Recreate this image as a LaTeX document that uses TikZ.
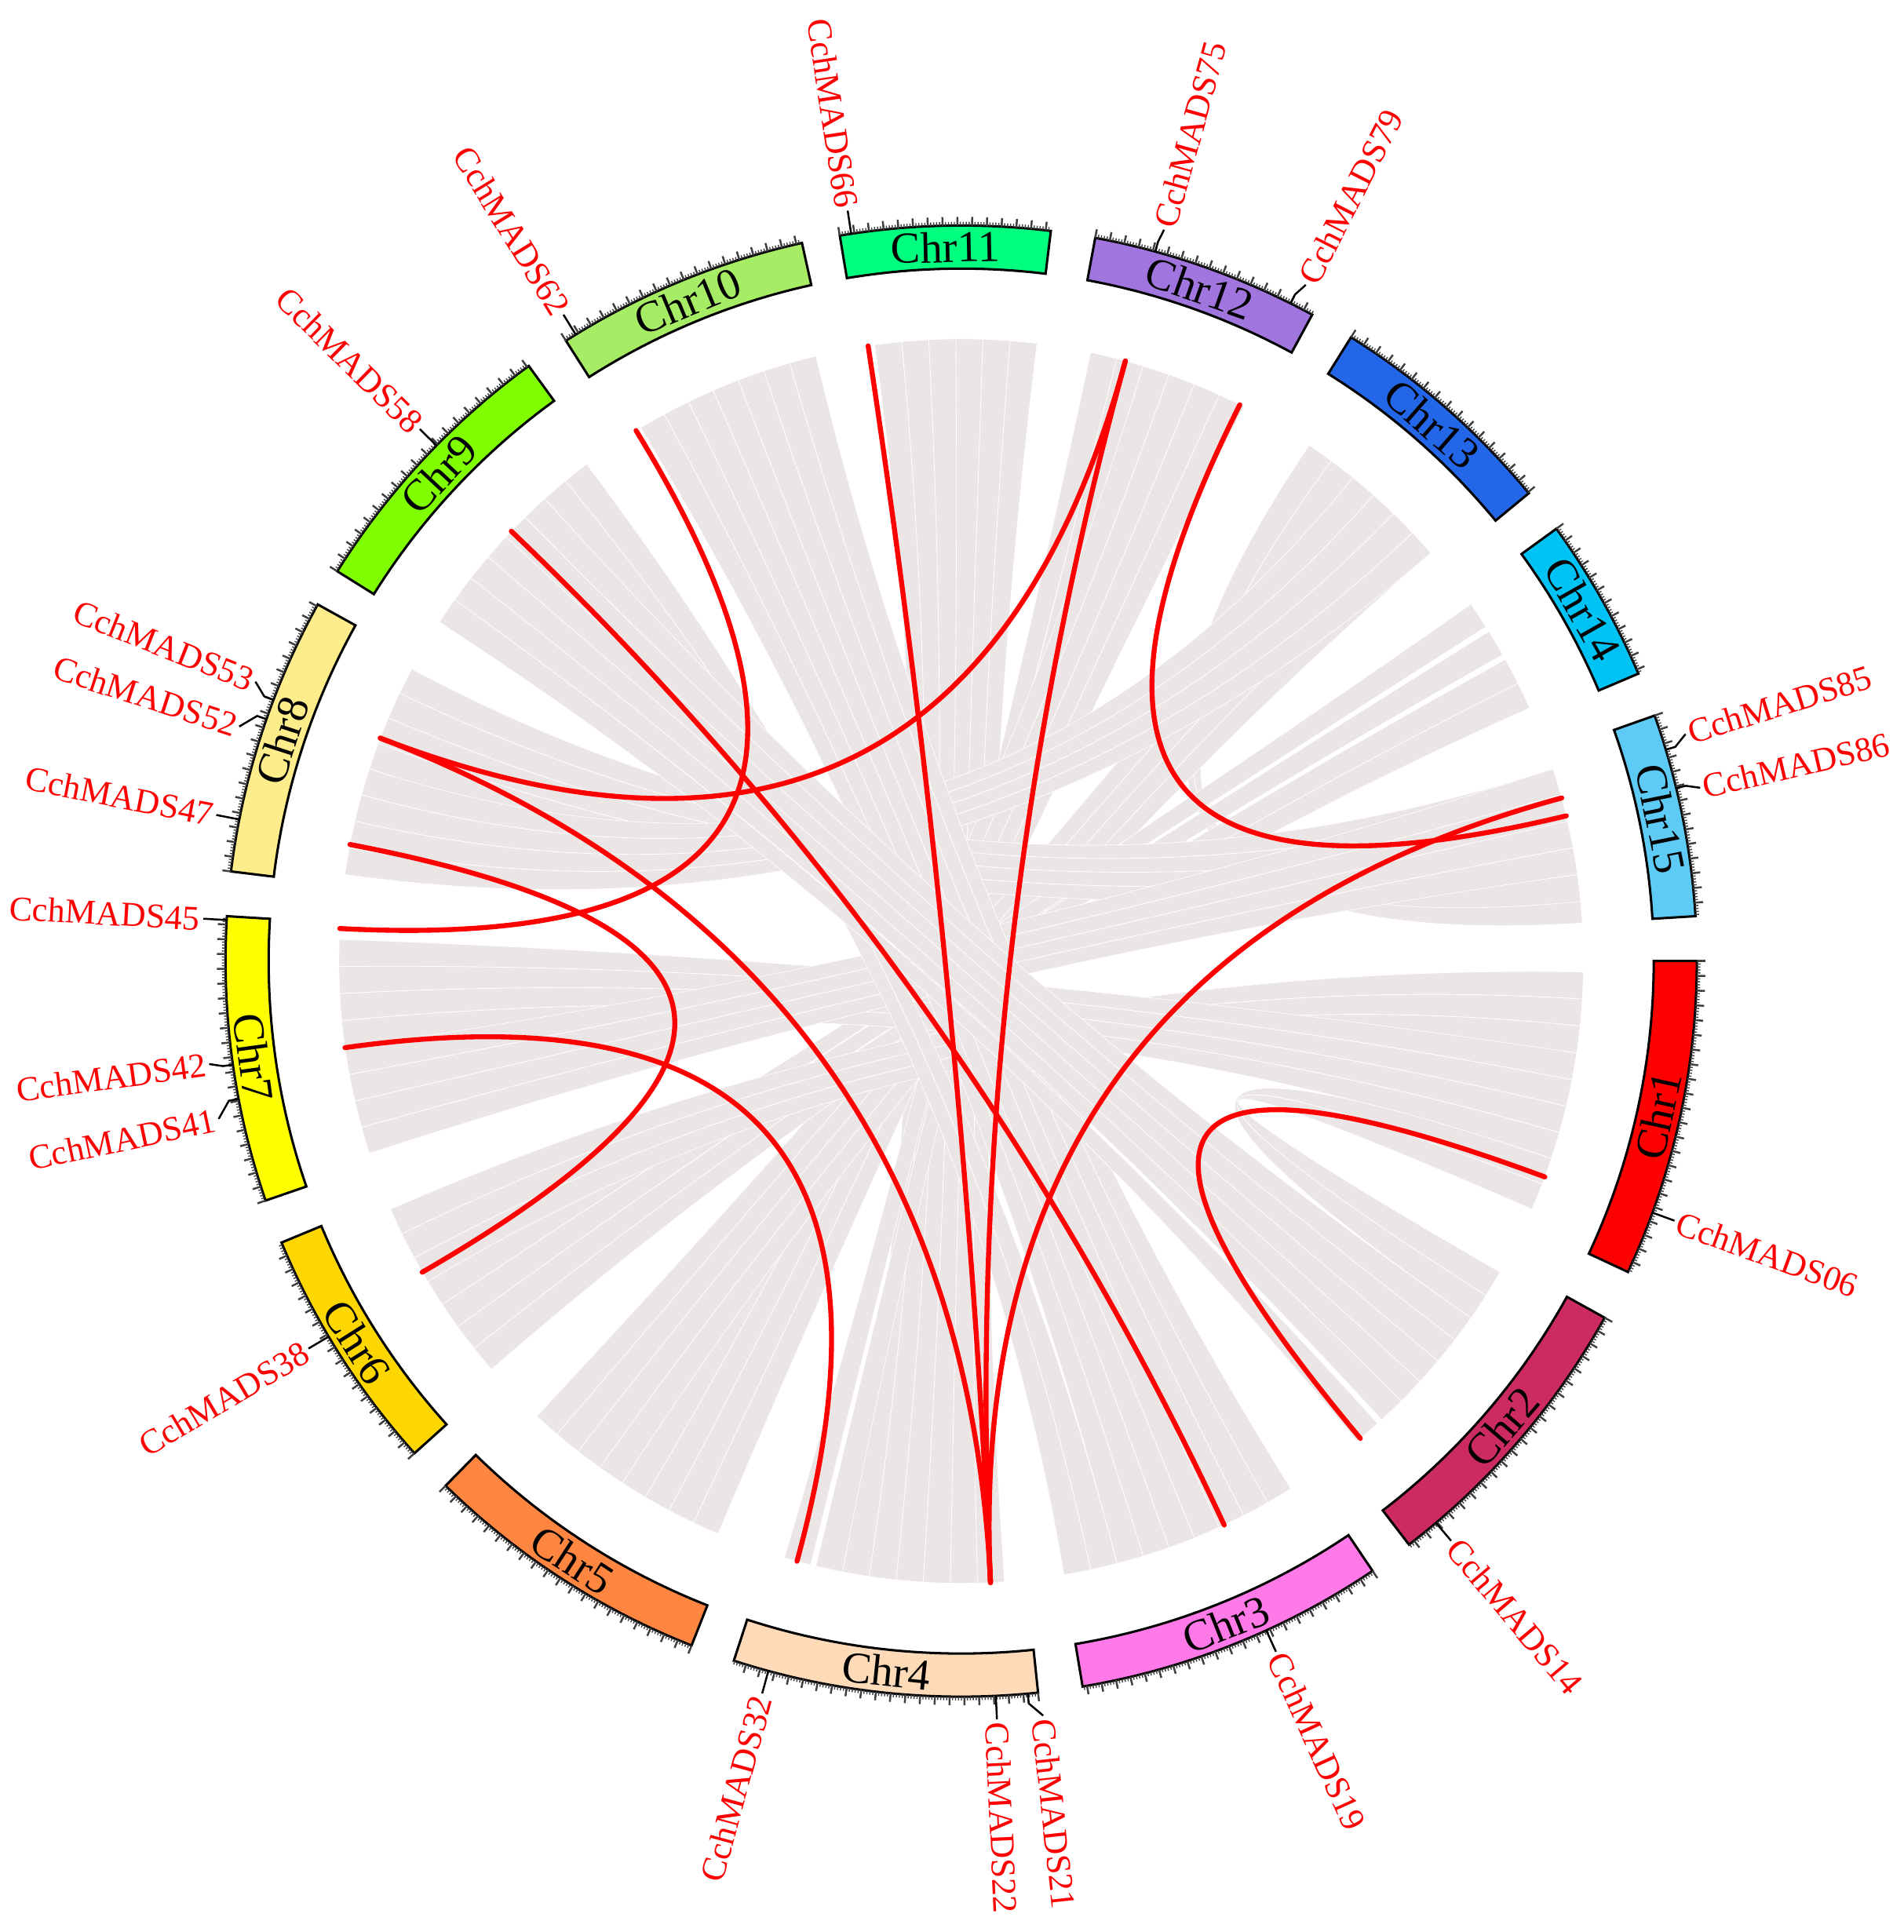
\documentclass[tikz,border=0pt]{standalone}
\usepackage{fontspec}
\setmainfont{Liberation Serif}
\definecolor{cA}{RGB}{255,0,0}
\definecolor{cB}{RGB}{204,42,98}
\definecolor{cC}{RGB}{255,122,232}
\definecolor{cD}{RGB}{255,218,185}
\definecolor{cE}{RGB}{255,134,64}
\definecolor{cF}{RGB}{255,215,0}
\definecolor{cG}{RGB}{255,255,0}
\definecolor{cH}{RGB}{255,236,139}
\definecolor{cI}{RGB}{127,255,0}
\definecolor{cJ}{RGB}{166,236,100}
\definecolor{cK}{RGB}{0,255,127}
\definecolor{cL}{RGB}{161,117,222}
\definecolor{cM}{RGB}{35,102,232}
\definecolor{cN}{RGB}{0,195,245}
\definecolor{cO}{RGB}{93,203,245}
\definecolor{ribgray}{RGB}{235,230,229}
\definecolor{tickc}{RGB}{64,64,64}
\def\Ri{562}
\def\Ro{597}
\def\Rl{505}
\newcommand\chromo[5]{%
  \path[chrbox, fill=#4] ({90-#2}:\Ri) arc[start angle={90-#2}, end angle={90-#3}, radius=\Ri]
     -- ({90-#3}:\Ro) arc[start angle={90-#3}, end angle={90-#2}, radius=\Ro] -- cycle;
  \pgfmathsetmacro\tkA{#2+1.15}
  \foreach \tk in {#2,\tkA,...,#3} {\draw[majtick] ({90-\tk}:\Ro) -- ({90-\tk}:{\Ro+7});}
  \pgfmathsetmacro\tkB{#2+0.23}
  \foreach \tk in {#2,\tkB,...,#3} {\draw[mintick] ({90-\tk}:\Ro) -- ({90-\tk}:{\Ro+3});}
  \pgfmathsetmacro\cmid{(#2+#3)/2}
  \pgfmathsetmacro\crot{(\cmid>=90 && \cmid<270) ? 180-\cmid : -\cmid}
  \node[chrlab, rotate=\crot] (#1) at ({90-\cmid}:{(\Ri+\Ro)/2}) {#5};
}
\newcommand\gene[4]{%
  \draw[leader] ({90-#2}:\Ro) -- ({90-#2}:{\Ro+8}) -- ({90-#3}:{\Ro+19});
  \pgfmathsetmacro\gphi{90-#3}
  \pgfmathsetmacro\gleft{(#3>180) ? 1 : 0}
  \ifdim\gleft pt>0.5pt
    \node[genelab, anchor=east, rotate=\gphi+180] (#1) at (\gphi:{\Ro+21}) {#4};
  \else
    \node[genelab, anchor=west, rotate=\gphi] (#1) at (\gphi:{\Ro+21}) {#4};
  \fi
}
% ribbon between arcs [#1,#2] and [#3,#4] (clockwise degrees from top)
\newcommand\ribbon[4]{%
  \pgfmathsetmacro\pa{90-(#1)}\pgfmathsetmacro\pb{90-(#2)}%
  \pgfmathsetmacro\pc{90-(#3)}\pgfmathsetmacro\pd{90-(#4)}%
  \path[ribbon] (\pa:\Rl) arc[start angle=\pa, end angle=\pb, radius=\Rl]
    .. controls (\pb:{\Rl/3}) and (\pc:{\Rl/3}) .. (\pc:\Rl)
    arc[start angle=\pc, end angle=\pd, radius=\Rl]
    .. controls (\pd:{\Rl/3}) and (\pa:{\Rl/3}) .. cycle;
}
\begin{document}
\begin{tikzpicture}[x=0.1mm,y=0.1mm,
  ribbon/.style={fill=ribgray, draw=white, line width=0.12pt},
  redlink/.style={draw=red, line width=1.15pt, line cap=round},
  chrbox/.style={draw=black, line width=0.55pt},
  majtick/.style={draw=tickc, line width=0.45pt},
  mintick/.style={draw=tickc, line width=0.25pt},
  chrlab/.style={font=\fontsize{10.2}{12}\selectfont, inner sep=0},
  genelab/.style={text=red, font=\fontsize{8}{9.6}\selectfont, inner sep=0},
  leader/.style={draw=black, line width=0.45pt}]
\useasboundingbox (-780,-788) rectangle (765,780);

% ---- gray synteny ribbons: [a,a+w] <-> [b,b+w] ----
\foreach \a/\b in {
   176/364.5, 178.5/362, 181/359.5, 183.5/357, 186/354.5, 188.5/352,   % chr4-chr11
   12/194, 14.5/191,                                                   % chr12-chr4
   17/210.5, 19.5/208, 22/205.5, 24.5/203,                             % chr12-chr5
   34/84, 36.5/82,                                                     % chr13-chr15
   39/220.5, 41.5/218, 44/215.5, 46.5/213,                             % chr13-chr5
   55/236.5, 58/234, 61/231.5, 63.5/229,                               % chr14-chr6
   72/295.5, 74.5/293, 77/290.5, 79.5/288,                             % chr15-chr8
   91/244, 93.5/241.5, 96/239,                                         % chr1-chr6
   98.5/269.5, 101/267, 103.5/264.5, 106/262,                          % chr1-chr7
   108.5/122.5, 111/120,                                               % chr1-chr2
   72/259.5, 74.5/257, 77/254.5, 79.5/252,                             % chr15-chr7
   39/285.5, 41.5/283, 44/280.5, 46.5/278,                             % chr13-chr8
   148/344, 150.5/341.5, 153/339, 155.5/336.5, 158/334, 160.5/331.5, 163/329, % chr3-chr10
   165.5/320.5, 168/318,                                               % chr3-chr9
   125/315.5, 127.5/313, 130/310.5, 132.5/308, 135/305.5, 138/303      % chr2-chr9
  } {\ribbon{\a}{\a+2.5}{\b}{\b+2.5}}

% ---- red link end points ----
\foreach \n/\a in {66/351.4, 75/15.3, 79/26.6, 86/76.5, 85/74.8, 4/177.3, 53/291.0,
                   62/328.5, 45/273.0, 58/313.7, 19/155.0, 47/280.8, 38/240.0,
                   42/262.0, 32/195.3, 06/110.3, 14/140.1} {
  \coordinate (e\n) at ({90-\a}:\Rl);
  \coordinate (c\n) at ({90-\a}:{\Rl/3});
}
\draw[redlink] (e66) .. controls (c66) and (c4) .. (e4);
\draw[redlink] (e75) .. controls (c75) and (c53) .. (e53);
\draw[redlink] (e75) .. controls (c75) and (c4) .. (e4);
\draw[redlink] (e79) .. controls (c79) and (c86) .. (e86);
\draw[redlink] (e4) .. controls (c4) and (c85) .. (e85);
\draw[redlink] (e62) .. controls (c62) and (c45) .. (e45);
\draw[redlink] (e58) .. controls (c58) and (c19) .. (e19);
\draw[redlink] (e53) .. controls (c53) and (c4) .. (e4);
\draw[redlink] (e47) .. controls (c47) and (c38) .. (e38);
\draw[redlink] (e42) .. controls (c42) and (c32) .. (e32);
\draw[redlink] (e06) .. controls (c06) and (c14) .. (e14);

% ---- chromosomes ----
\chromo{Chr1}{90}{115}{cA}{Chr1}
\chromo{Chr2}{119}{142.5}{cB}{Chr2}
\chromo{Chr3}{146}{170.5}{cC}{Chr3}
\chromo{Chr4}{174}{198}{cD}{Chr4}
\chromo{Chr5}{201.5}{224.5}{cE}{Chr5}
\chromo{Chr6}{228}{247.5}{cF}{Chr6}
\chromo{Chr7}{251}{273.5}{cG}{Chr7}
\chromo{Chr8}{277}{299}{cH}{Chr8}
\chromo{Chr9}{302}{324}{cI}{Chr9}
\chromo{Chr10}{327.5}{347.5}{cJ}{Chr10}
\chromo{Chr11}{350.5}{367}{cK}{Chr11}
\chromo{Chr12}{10.5}{28.5}{cL}{Chr12}
\chromo{Chr13}{32}{50.5}{cM}{Chr13}
\chromo{Chr14}{54}{67}{cN}{Chr14}
\chromo{Chr15}{70.5}{86.5}{cO}{Chr15}

% ---- gene labels ----
\gene{L66}{351.4}{351.4}{CchMADS66}
\gene{L75}{15.3}{15.5}{CchMADS75}
\gene{L79}{26.6}{27.0}{CchMADS79}
\gene{L62}{328.4}{328.4}{CchMADS62}
\gene{L58}{314.5}{314.5}{CchMADS58}
\gene{L53}{290.8}{291.6}{CchMADS53}
\gene{L52}{289.2}{288.0}{CchMADS52}
\gene{L47}{281.1}{281.1}{CchMADS47}
\gene{L45}{273.2}{273.2}{CchMADS45}
\gene{L42}{261.9}{262.2}{CchMADS42}
\gene{L41}{259.2}{258.0}{CchMADS41}
\gene{L38}{239.3}{239.3}{CchMADS38}
\gene{L32}{195.2}{195.2}{CchMADS32}
\gene{L22}{177.3}{177.3}{CchMADS22}
\gene{L21}{174.8}{173.8}{CchMADS21}
\gene{L19}{155.5}{155.5}{CchMADS19}
\gene{L14}{139.8}{139.8}{CchMADS14}
\gene{L06}{110.0}{110.0}{CchMADS06}
\gene{L85}{73.3}{72.6}{CchMADS85}
\gene{L86}{76.4}{76.8}{CchMADS86}
\end{tikzpicture}
\end{document}
